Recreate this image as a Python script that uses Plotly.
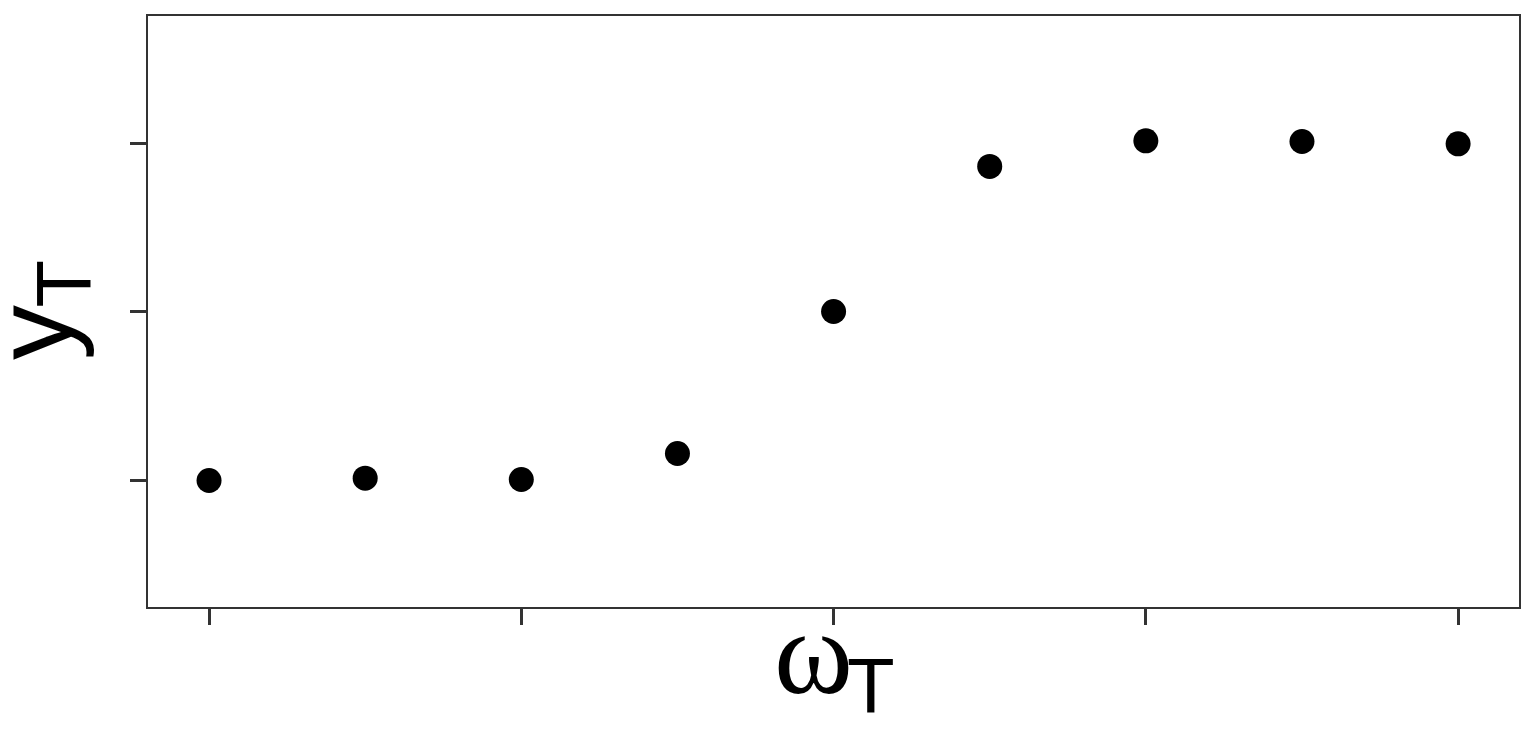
import plotly.graph_objects as go

omega = [0, 1, 2, 3, 4, 5, 6, 7, 8]
y_vals = [0.0, 0.007, 0.003, 0.080, 0.501, 0.931, 1.007, 1.005, 0.998]
x_ticks = [0, 2, 4, 6, 8]
y_ticks = [0, 0.5, 1]

fig = go.Figure()
fig.add_trace(go.Scatter(
    x=omega, y=y_vals, mode="markers",
    marker=dict(size=25, color="black"),
    showlegend=False,
))

axis_common = dict(
    showgrid=False, zeroline=False, showline=True, mirror=True,
    linecolor="#333333", linewidth=2.2,
    ticks="outside", ticklen=16, tickwidth=3, tickcolor="#333333",
    showticklabels=False,
)
fig.update_xaxes(range=[-0.391, 8.39], tickvals=x_ticks, **axis_common)
fig.update_yaxes(range=[-0.375, 1.377], tickvals=y_ticks, **axis_common)

def label(text, family, size, xs, ys, angle=0):
    fig.add_annotation(
        text=text, xref="paper", yref="paper", x=0, y=0,
        xanchor="center", yanchor="middle", xshift=xs, yshift=ys,
        textangle=angle, showarrow=False,
        font=dict(family=family, size=size, color="black"),
    )

# x-axis title: omega with subscript T
label("ω", "Liberation Serif, Times New Roman, serif", 120, 665, -45.5)
label("T", "Liberation Sans", 78, 723, -79)
# y-axis title: y with subscript T (rotated)
label("y", "Liberation Sans", 110, -116, 274, -90)
label("T", "Liberation Sans", 78, -85, 323.5, -90)

fig.update_layout(
    width=1520, height=747,
    margin=dict(l=140, r=9, t=6, b=148),
    paper_bgcolor="white", plot_bgcolor="white",
)
fig.write_html("out.html")
